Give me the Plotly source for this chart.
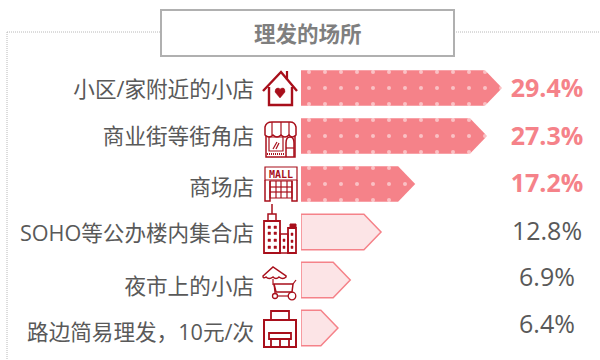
# coding=utf-8
import plotly.graph_objects as go

title = '理发的场所'
categories = ['小区/家附近的小店', '商业街等街角店', '商场店',
              'SOHO等公办楼内集合店', '夜市上的小店', '路边简易理发，10元/次']
value_labels = ['29.4%', '27.3%', '17.2%', '12.8%', '6.9%', '6.4%']
# 图上箭头实际画出的长度（与标注略有出入）
bar_lengths = [29.4, 27.2, 16.7, 11.7, 7.2, 5.4]

PINK = '#f58289'
LIGHT = '#fce4e6'
RED = '#a80f1b'
GREY = '#595959'
DOT = '#b8b8b8'
CJK = 'Noto Sans CJK SC'
HEAD = 2.5      # 箭头尖长度
HALF = 0.37     # 半个条高
PX_PER_UNIT = 6.84


def icon(path, fill=None, width=1.5):
    return dict(type='path', path=path, xref='x2', yref='y2', layer='above',
                line=dict(color=RED if width else 'rgba(0,0,0,0)', width=width),
                fillcolor=fill or 'rgba(0,0,0,0)')


def box(x0, y0, x1, y1, fill=None, width=1.2):
    return icon(f'M{x0},{y0} L{x1},{y0} L{x1},{y1} L{x0},{y1} Z', fill, width)


def line(x0, y0, x1, y1, color=RED, width=1.2, dash=None):
    return dict(type='line', x0=x0, y0=y0, x1=x1, y1=y1, xref='x2', yref='y2',
                layer='above', line=dict(color=color, width=width, dash=dash))


def wheel(cx, cy, r):
    return dict(type='circle', x0=cx - r, y0=cy - r, x1=cx + r, y1=cy + r,
                xref='x2', yref='y2', layer='above', line=dict(color=RED, width=1.3))


def icon_shapes():
    s = []
    # 房子
    s.append(icon('M263,91 L281,72 L297,91', width=2.4))
    s.append(icon('M269,87 L269,105 L292,105 L292,87', width=2.4))
    s.append(line(287, 71, 287, 80, width=2.2))
    s.append(icon('M280,98 L275,92 Q275,88 278,88 Q280,88 280,90 Q280,88 283,88 '
                  'Q285,88 285,92 Z', RED, 0.5))
    # 街角店
    s.append(icon('M265,135 L265,127 Q266,122 272,122 L290,122 Q295,122 296,127 L296,135 '
                  'Q292,139 289,135 Q285,139 281,135 Q277,139 273,135 Q269,139 265,135 Z'))
    s.append(line(272, 122, 272, 135))
    s.append(line(281, 122, 281, 135))
    s.append(line(289, 122, 289, 135))
    s.append(icon('M266,136 L266,157 L295,157 L295,136'))
    s.append(box(269, 137, 283, 151))
    s.append(line(273, 149, 277, 142))
    s.append(line(276, 149, 279, 143))
    s.append(icon('M286,157 L286,143 Q286,137 290,137 Q294,137 294,143 L294,157'))
    s.append(line(286, 148, 294, 148))
    s.append(line(267, 154, 284, 154, width=2, dash='1px,1px'))
    # 商场
    s.append(box(265, 167, 297, 180))
    s.append(icon('M265,180 L265,201 L270,201 L270,181 M292,181 L292,201 L297,201 L297,180'))
    s.append(box(270, 181, 292, 198))
    for x in (276, 281, 287):
        s.append(line(x, 181, x, 198))
    for y in (187, 192):
        s.append(line(270, y, 292, y))
    # 写字楼
    s.append(line(272, 204, 272, 214, width=1.5))
    s.append(box(268, 214, 276, 221, width=1.5))
    s.append(box(264, 221, 280, 253, width=1.8))
    s.append(box(280, 234, 288, 253, width=1.5))
    s.append(box(288, 228, 296, 253, width=1.8))
    s.append(box(290, 224, 296, 228, RED, 1))
    for y in (226, 232, 239, 246):
        for x in (268, 274):
            s.append(box(x, y, x + 2.5, y + 2.5, RED, 0.5))
    for y in (239, 246):
        s.append(box(283, y, 285, y + 2.5, RED, 0.5))
    for y in (233, 240, 246):
        s.append(box(291, y, 293, y + 2.5, RED, 0.5))
    # 夜市小车
    s.append(icon('M263,276 L273,267 L286,276 L286,277 Q283,280 279,277 Q276,280 273,277 '
                  'Q269,280 266,277 Q263,279 263,276 Z'))
    s.append(line(273, 279, 273, 285))
    s.append(icon('M274,284 L293,284 L292,292 L276,292 Z'))
    s.append(line(293, 284, 296, 280))
    s.append(line(274, 284, 275, 293))
    s.append(wheel(275, 296, 2.5))
    s.append(wheel(292, 296, 3.8))
    s.append(line(278, 296, 288, 296))
    # 路边小店
    s.append(icon('M271,320 L271,311 L289,311 L289,320', width=1.8))
    s.append(box(264, 320, 296, 347, width=2))
    s.append(box(269, 333, 291, 339, width=1.8))
    s.append(icon('M271,339 L271,347 M280,339 L280,347 M289,339 L289,347', width=1.8))
    return s


def main():
    fig = go.Figure()
    for i, (name, length) in enumerate(zip(categories, bar_lengths)):
        xs = [0, length - HEAD, length, length - HEAD, 0, 0]
        ys = [i - HALF, i - HALF, i, i + HALF, i + HALF, i - HALF]
        if i < 3:
            fig.add_trace(go.Scatter(
                x=xs, y=ys, mode='lines', fill='toself', name=name,
                line=dict(color=PINK, width=0), fillcolor=PINK,
                fillpattern=dict(shape='.', fgcolor='white', bgcolor=PINK,
                                 size=16, solidity=0.05)))
        else:
            fig.add_trace(go.Scatter(
                x=xs, y=ys, mode='lines', fill='toself', name=name,
                line=dict(color=PINK, width=1.5), fillcolor=LIGHT))

    # 类别文字
    fig.add_trace(go.Scatter(
        x=[254] * 6, y=[92, 139, 190, 236, 289, 335], text=categories,
        mode='text', textposition='middle left', xaxis='x2', yaxis='y2',
        textfont=dict(family=f'Open Sans, {CJK}', size=21.6, color=GREY)))
    # 数值文字
    value_y = [91, 139, 186, 234, 280, 327]
    for i, label in enumerate(value_labels):
        top = i < 3
        fig.add_trace(go.Scatter(
            x=[547], y=[value_y[i]], text=[label], mode='text',
            textposition='middle center', xaxis='x2', yaxis='y2',
            textfont=dict(family='Open Sans', size=25,
                          color=PINK if top else GREY,
                          weight='bold' if top else 'normal')))

    shapes = [
        line(7, 32, 160, 32, color=DOT, width=1, dash='1px,1px'),
        line(456, 32, 600, 32, color=DOT, width=1, dash='1px,1px'),
        line(7, 32, 7, 360, color=DOT, width=1, dash='1px,1px'),
        dict(type='rect', x0=161, y0=10, x1=454, y1=56, xref='x2', yref='y2',
             line=dict(color='#b0b0b0', width=2), fillcolor='white', layer='above'),
    ] + icon_shapes()

    fig.update_layout(
        width=600, height=360, margin=dict(l=0, r=0, t=0, b=0),
        paper_bgcolor='white', plot_bgcolor='rgba(0,0,0,0)', showlegend=False,
        shapes=shapes,
        annotations=[dict(text=f'<b>{title}</b>', x=308, y=32, xref='x2', yref='y2',
                          showarrow=False,
                          font=dict(family=CJK, size=21.5, color='#7f7f7f'))],
        xaxis=dict(domain=[301 / 600, 1], range=[0, 299 / PX_PER_UNIT], visible=False),
        yaxis=dict(domain=[1 - 352 / 360, 1 - 64 / 360], range=[5.5, -0.5], visible=False),
        xaxis2=dict(domain=[0, 1], range=[0, 600], visible=False, anchor='y2'),
        yaxis2=dict(domain=[0, 1], range=[360, 0], visible=False, anchor='x2'),
    )
    # 商场招牌
    fig.add_annotation(text='<b>MALL</b>', x=281, y=174, xref='x2', yref='y2',
                       showarrow=False,
                       font=dict(family='DejaVu Sans Mono', size=10, color=RED))
    # 去掉页面默认边距
    fig.write_html('out.html', config={'displayModeBar': False},
                   post_script="document.body.style.margin='0';")


if __name__ == '__main__':
    main()
